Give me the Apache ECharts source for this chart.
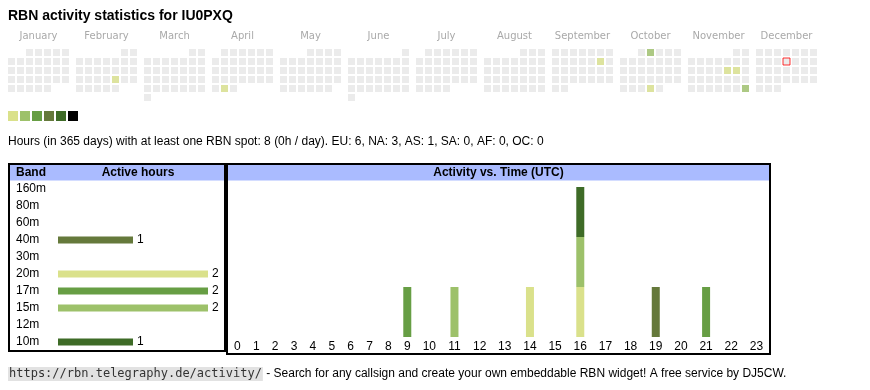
<!DOCTYPE html>
<html><head><meta charset="utf-8">
<script src="https://cdn.jsdelivr.net/npm/echarts@6/dist/echarts.min.js"></script>
<style>html,body{margin:0;padding:0;background:#fff}#c{width:870px;height:390px}</style>
</head><body><div id="c"></div>
<script>
// ---------- data ----------
const titleText = 'RBN activity statistics for IU0PXQ';
const statsText = 'Hours (in 365 days) with at least one RBN spot: 8 (0h / day). EU: 6, NA: 3, AS: 1, SA: 0, AF: 0, OC: 0';
const footerUrl = 'https://rbn.telegraphy.de/activity/';
const footerText = ' - Search for any callsign and create your own embeddable RBN widget! A free service by DJ5CW.';
const year = 2025;
const monthNames = ['January','February','March','April','May','June','July','August','September','October','November','December'];
const activeDays = ['2025-02-21','2025-04-29','2025-09-13','2025-10-02','2025-10-30','2025-11-14','2025-11-15','2025-11-30'];
const activeLevels = [1,1,1,2,1,1,1,2];
const todayDate = '2025-12-11';
const levels = [1,2,3,4,5,6];
const levelColors = ['#dae18b','#9dc16a','#679e44','#65793b','#3e6b27','#000000'];

const bands = ['160m','80m','60m','40m','30m','20m','17m','15m','12m','10m'];
const bandColors = ['#8c8c8c','#9a9a9a','#a8a8a8','#65793b','#b6b6b6','#dae18b','#679e44','#9dc16a','#c4c4c4','#3e6b27'];
const bandHours = [0,0,0,1,0,2,2,2,0,1];

const hourLabels = ['0','1','2','3','4','5','6','7','8','9','10','11','12','13','14','15','16','17','18','19','20','21','22','23'];
const hourly160m = [0,0,0,0,0,0,0,0,0,0,0,0,0,0,0,0,0,0,0,0,0,0,0,0];
const hourly80m  = [0,0,0,0,0,0,0,0,0,0,0,0,0,0,0,0,0,0,0,0,0,0,0,0];
const hourly60m  = [0,0,0,0,0,0,0,0,0,0,0,0,0,0,0,0,0,0,0,0,0,0,0,0];
const hourly40m  = [0,0,0,0,0,0,0,0,0,0,0,0,0,0,0,0,0,0,0,1,0,0,0,0];
const hourly30m  = [0,0,0,0,0,0,0,0,0,0,0,0,0,0,0,0,0,0,0,0,0,0,0,0];
const hourly20m  = [0,0,0,0,0,0,0,0,0,0,0,0,0,0,1,0,1,0,0,0,0,0,0,0];
const hourly17m  = [0,0,0,0,0,0,0,0,0,1,0,0,0,0,0,0,0,0,0,0,0,1,0,0];
const hourly15m  = [0,0,0,0,0,0,0,0,0,0,0,1,0,0,0,0,1,0,0,0,0,0,0,0];
const hourly12m  = [0,0,0,0,0,0,0,0,0,0,0,0,0,0,0,0,0,0,0,0,0,0,0,0];
const hourly10m  = [0,0,0,0,0,0,0,0,0,0,0,0,0,0,0,0,1,0,0,0,0,0,0,0];
const hourlyByBand = [hourly160m,hourly80m,hourly60m,hourly40m,hourly30m,hourly20m,hourly17m,hourly15m,hourly12m,hourly10m];

// ---------- derived (table-like column layout: width grows with label length) ----------
const colUnits = hourLabels.map(l => l.length + 2);
const totalUnits = colUnits.reduce((a, b) => a + b, 0);
const hourCenters = [];
{ let acc = 0; colUnits.forEach(u => { hourCenters.push(acc + u / 2); acc += u; }); }
const hourTotals = hourLabels.map((_, i) => hourlyByBand.reduce((s, arr) => s + arr[i], 0));
const hourMax = Math.max(...hourTotals);
const bandMax = Math.max(...bandHours);

const pad = n => (n < 10 ? '0' : '') + n;
const FONT = 'Liberation Sans, Arial, sans-serif';

const calendars = monthNames.map((name, i) => ({
  orient: 'vertical',
  range: year + '-' + pad(i + 1),
  left: 7 + 68 * i,
  top: 48,
  cellSize: [9, 9],
  splitLine: { show: false },
  itemStyle: { color: '#ebebeb', borderColor: '#ffffff', borderWidth: 2 },
  dayLabel: { show: false, firstDay: 1 },
  monthLabel: { show: false },
  yearLabel: {
    show: true, position: 'top', margin: 7,
    formatter: () => name,
    color: '#a9a9a9', fontSize: 10, fontFamily: 'DejaVu Sans', fontWeight: 'normal'
  },
  silent: true
}));

const series = [];
monthNames.forEach((name, i) => {
  const data = [];
  activeDays.forEach((d, k) => { if (+d.slice(5, 7) === i + 1) data.push([d, activeLevels[k]]); });
  series.push({ type: 'scatter', coordinateSystem: 'calendar', calendarIndex: i, symbol: 'rect', symbolSize: 7, silent: true, data });
});
const calSeriesIdx = series.map((_, i) => i);
series.push({
  type: 'scatter', coordinateSystem: 'calendar', calendarIndex: +todayDate.slice(5, 7) - 1,
  symbol: 'rect', symbolSize: 7, silent: true,
  itemStyle: { color: '#ebebeb', borderColor: '#ff0000', borderWidth: 1 },
  data: [[todayDate, 0]]
});
// band table bars
series.push({
  type: 'bar', xAxisIndex: 0, yAxisIndex: 0, barWidth: 7, silent: true,
  data: bandHours.map((v, i) => ({ value: v, itemStyle: { color: bandColors[i] } })),
  label: { show: true, position: 'right', distance: 4, color: '#000', fontSize: 12, fontFamily: FONT,
           formatter: p => (p.value ? String(p.value) : '') }
});
// activity vs time stacked bars (value dimension first so stacking applies to y)
bands.forEach((b, bi) => {
  series.push({
    type: 'bar', name: b, xAxisIndex: 1, yAxisIndex: 1, stack: 'hours', barWidth: 8, silent: true,
    itemStyle: { color: bandColors[bi] },
    encode: { x: 1, y: 0 },
    data: hourlyByBand[bi].map((v, h) => [v, hourCenters[h]])
  });
});

const option = {
  animation: false,
  backgroundColor: '#ffffff',
  title: [
    { text: titleText, left: 8, top: 9, padding: 0,
      textStyle: { fontSize: 14, fontWeight: 'bold', color: '#000', fontFamily: FONT } },
    { text: statsText, left: 8, top: 136, padding: 0,
      textStyle: { fontSize: 12, fontWeight: 'normal', color: '#000', fontFamily: FONT } },
    { text: '{code|' + footerUrl + '}{txt|' + footerText + '}', left: 8, top: 367, padding: 0,
      textStyle: { fontWeight: 'normal', rich: {
        code: { fontFamily: 'DejaVu Sans Mono, monospace', fontSize: 12, fontWeight: 'normal', color: '#333', backgroundColor: '#e2e2e2', padding: [1, 1, 1, 1] },
        txt: { fontFamily: FONT, fontSize: 12, fontWeight: 'normal', color: '#000' }
      } } }
  ],
  calendar: calendars,
  visualMap: {
    type: 'piecewise', seriesIndex: calSeriesIdx, orient: 'horizontal',
    left: 8, top: 111, padding: 0, itemWidth: 10, itemHeight: 10, itemGap: 2,
    itemSymbol: 'rect', showLabel: false, selectedMode: false, hoverLink: false,
    pieces: levels.map((v, i) => ({ value: v, color: levelColors[i] }))
  },
  grid: [
    { left: 58, top: 180.5, width: 75 * bandMax, height: 170 },
    { left: 228, top: 187, width: 541, height: 150 }
  ],
  xAxis: [
    { gridIndex: 0, type: 'value', min: 0, max: bandMax, show: false },
    { gridIndex: 1, type: 'value', min: 0, max: totalUnits,
      axisLine: { show: false }, axisTick: { show: false }, splitLine: { show: false },
      axisLabel: {
        show: true, customValues: hourCenters, margin: 4, color: '#000', fontSize: 12, fontFamily: FONT,
        formatter: v => {
          let best = 0;
          hourCenters.forEach((c, i) => { if (Math.abs(c - v) < Math.abs(hourCenters[best] - v)) best = i; });
          return hourLabels[best];
        }
      } }
  ],
  yAxis: [
    { gridIndex: 0, type: 'category', data: bands, inverse: true,
      axisLine: { show: false }, axisTick: { show: false }, splitLine: { show: false },
      axisLabel: { align: 'left', margin: 42, color: '#000', fontSize: 12, fontFamily: FONT } },
    { gridIndex: 1, type: 'value', min: 0, max: hourMax, show: false, splitLine: { show: false } }
  ],
  graphic: [
    { type: 'rect', shape: { x: 10, y: 165, width: 214, height: 15.5 }, style: { fill: '#aabbff' }, silent: true },
    { type: 'rect', shape: { x: 228, y: 165, width: 541, height: 15.5 }, style: { fill: '#aabbff' }, silent: true },
    { type: 'rect', shape: { x: 9, y: 164, width: 216, height: 187 }, style: { fill: null, stroke: '#000', lineWidth: 2 }, silent: true },
    { type: 'rect', shape: { x: 227, y: 164, width: 543, height: 190 }, style: { fill: null, stroke: '#000', lineWidth: 2 }, silent: true },
    { type: 'text', x: 16, y: 173, style: { text: 'Band', font: 'bold 12px ' + FONT, fill: '#000', verticalAlign: 'middle' }, silent: true },
    { type: 'text', x: 138, y: 173, style: { text: 'Active hours', font: 'bold 12px ' + FONT, fill: '#000', align: 'center', verticalAlign: 'middle' }, silent: true },
    { type: 'text', x: 498.5, y: 173, style: { text: 'Activity vs. Time (UTC)', font: 'bold 12px ' + FONT, fill: '#000', align: 'center', verticalAlign: 'middle' }, silent: true }
  ],
  series
};

const chart = echarts.init(document.getElementById('c'), null, { renderer: 'canvas' });
chart.setOption(option);
</script>
</body></html>
